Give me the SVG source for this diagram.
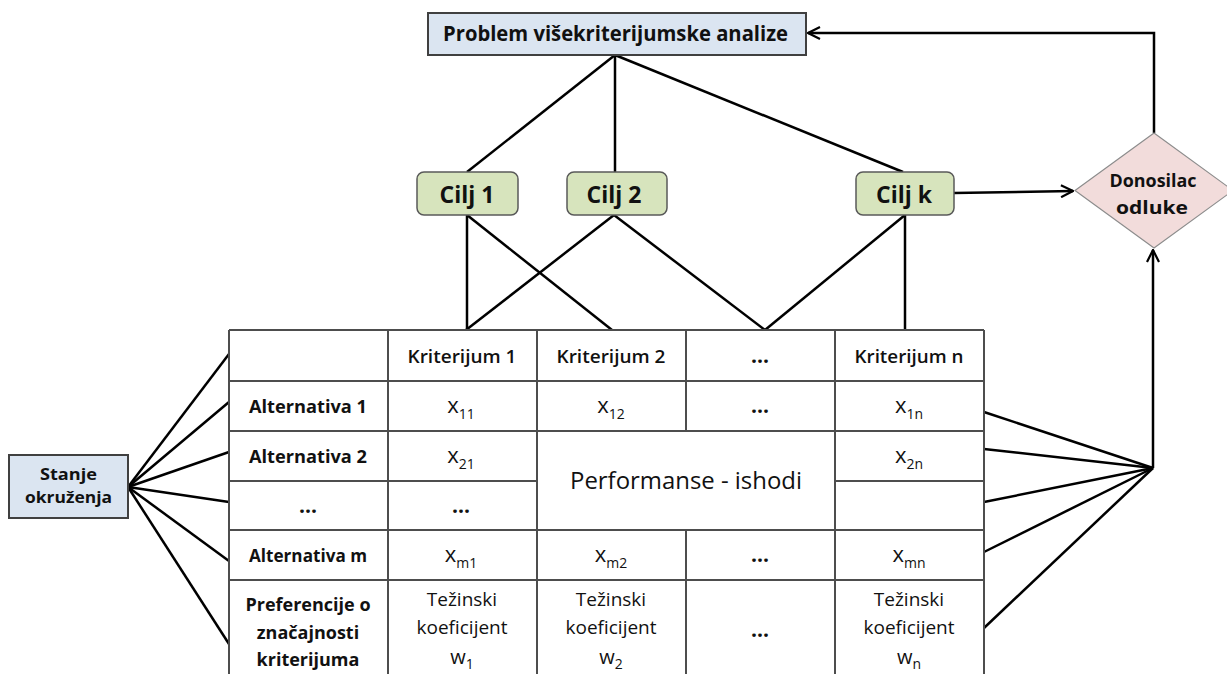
<svg xmlns="http://www.w3.org/2000/svg" width="1227" height="674" viewBox="0 0 1227 674">
  <style>
    .bg { fill: #ffffff; }
    .box { fill: #dbe5f1; stroke: #404040; stroke-width: 2; }
    .goal { fill: #d7e4bd; stroke: #595959; stroke-width: 1.5; }
    .dm { fill: #f2dcdb; stroke: #8c8c8c; stroke-width: 1.2; }
    .grid { stroke: #4d4d4d; stroke-width: 2; fill: none; }
    .conn { stroke: #000000; stroke-width: 2.5; fill: none; }
    text { font-family: "Open Sans", "Liberation Sans", sans-serif; fill: #111111; text-anchor: middle; }
    .b { font-weight: bold; }
    .lbl { font-size: 18px; font-weight: bold; }
    .hdr { font-size: 18px; font-weight: 600; }
    .val { font-size: 22px; }
    .sub { font-size: 14px; }
    .wv { font-size: 20px; }
    .dots { font-size: 21px; font-weight: bold; }
    .wt { font-size: 19px; }
  </style>
  <defs>
    <marker id="arrow" viewBox="0 0 14 14" refX="13" refY="7" markerWidth="14" markerHeight="14" markerUnits="userSpaceOnUse" orient="auto">
      <path d="M1,1 L13,7 L1,13" fill="none" stroke="#000000" stroke-width="2.2"/>
    </marker>
  </defs>

  <rect class="bg" x="0" y="0" width="1227" height="674"/>

  <!-- connectors -->
  <g id="connectors">
    <!-- problem to goals -->
    <path class="conn" d="M615,55 L467,172"/>
    <path class="conn" d="M615,55 L615,172"/>
    <path class="conn" d="M615,55 L903,172"/>
    <!-- goals to criteria -->
    <path class="conn" d="M467,215 L467,330"/>
    <path class="conn" d="M467,215 L612,330"/>
    <path class="conn" d="M614,215 L466,330"/>
    <path class="conn" d="M614,215 L765,330"/>
    <path class="conn" d="M905,215 L765,330"/>
    <path class="conn" d="M905,215 L905,330"/>
    <!-- goal k to decision maker -->
    <path class="conn" d="M954,193 L1073,191" marker-end="url(#arrow)"/>
    <!-- decision maker back to problem -->
    <path class="conn" d="M1154,133 L1154,33 L808,33" marker-end="url(#arrow)"/>
    <!-- table rows to decision maker -->
    <path class="conn" d="M984,412 L1153,468"/>
    <path class="conn" d="M984,449 L1153,468"/>
    <path class="conn" d="M984,502 L1153,468"/>
    <path class="conn" d="M984,552 L1153,468"/>
    <path class="conn" d="M984,628 L1153,468"/>
    <path class="conn" d="M1153,468 L1153,250" marker-end="url(#arrow)"/>
    <!-- environment state to table rows -->
    <path class="conn" d="M128,487 L229,354"/>
    <path class="conn" d="M128,487 L229,402"/>
    <path class="conn" d="M128,487 L229,452"/>
    <path class="conn" d="M128,487 L229,502"/>
    <path class="conn" d="M128,487 L229,561"/>
    <path class="conn" d="M128,487 L229,644"/>
  </g>

  <g id="problem">
    <rect class="box" x="428" y="13" width="378" height="42"/>
    <text class="b" x="615.5" y="41" font-size="21" textLength="345" lengthAdjust="spacingAndGlyphs">Problem višekriterijumske analize</text>
  </g>

  <g id="cilj1">
    <rect class="goal" x="417" y="172" width="101" height="43" rx="7"/>
    <text class="b" x="467" y="203" font-size="23">Cilj 1</text>
  </g>
  <g id="cilj2">
    <rect class="goal" x="567" y="172" width="100" height="43" rx="7"/>
    <text class="b" x="614" y="203" font-size="23">Cilj 2</text>
  </g>
  <g id="ciljk">
    <rect class="goal" x="856" y="172" width="98" height="43" rx="7"/>
    <text class="b" x="904" y="203" font-size="23">Cilj k</text>
  </g>

  <g id="donosilac">
    <polygon class="dm" points="1154,133 1233,190.5 1154,248 1075,190.5"/>
    <text class="b" x="1153" y="187" font-size="17" textLength="87" lengthAdjust="spacingAndGlyphs">Donosilac</text>
    <text class="b" x="1152" y="214" font-size="17" textLength="72" lengthAdjust="spacingAndGlyphs">odluke</text>
  </g>

  <g id="stanje">
    <rect class="box" x="9" y="455" width="119" height="63"/>
    <text class="b" x="68.5" y="480" font-size="16.5" textLength="57" lengthAdjust="spacingAndGlyphs">Stanje</text>
    <text class="b" x="68.5" y="503" font-size="16.5" textLength="87" lengthAdjust="spacingAndGlyphs">okruženja</text>
  </g>

  <g id="matrica">
    <!-- grid -->
    <path class="grid" d="M229,330 H984 M229,381 H984 M229,431 H984 M229,481 H537 M835,481 H984 M229,530 H984 M229,580 H984"/>
    <path class="grid" d="M229,330 V676 M388,330 V676 M537,330 V676 M686,330 V431 M686,530 V676 M835,330 V676 M984,330 V676"/>

    <!-- header row -->
    <text class="hdr" x="462" y="363" textLength="109" lengthAdjust="spacingAndGlyphs">Kriterijum 1</text>
    <text class="hdr" x="611" y="363" textLength="109" lengthAdjust="spacingAndGlyphs">Kriterijum 2</text>
    <text class="dots" x="760" y="363">...</text>
    <text class="hdr" x="909" y="363" textLength="109" lengthAdjust="spacingAndGlyphs">Kriterijum n</text>

    <!-- alternative 1 -->
    <text class="lbl" x="308" y="413" textLength="118" lengthAdjust="spacingAndGlyphs">Alternativa 1</text>
    <text class="val" x="461" y="413">x<tspan class="sub" dy="6">11</tspan></text>
    <text class="val" x="611" y="413">x<tspan class="sub" dy="6">12</tspan></text>
    <text class="dots" x="760" y="413">...</text>
    <text class="val" x="909" y="413">x<tspan class="sub" dy="6">1n</tspan></text>

    <!-- alternative 2 -->
    <text class="lbl" x="308" y="463" textLength="118" lengthAdjust="spacingAndGlyphs">Alternativa 2</text>
    <text class="val" x="461" y="463">x<tspan class="sub" dy="6">21</tspan></text>
    <text class="val" x="909" y="463">x<tspan class="sub" dy="6">2n</tspan></text>

    <!-- merged outcomes cell -->
    <text x="686" y="489" font-size="23" textLength="232" lengthAdjust="spacingAndGlyphs">Performanse - ishodi</text>

    <!-- ellipsis row -->
    <text class="dots" x="308" y="513">...</text>
    <text class="dots" x="461" y="513">...</text>

    <!-- alternative m -->
    <text class="lbl" x="308" y="562" textLength="118" lengthAdjust="spacingAndGlyphs">Alternativa m</text>
    <text class="val" x="461" y="562">x<tspan class="sub" dy="6">m1</tspan></text>
    <text class="val" x="611" y="562">x<tspan class="sub" dy="6">m2</tspan></text>
    <text class="dots" x="760" y="562">...</text>
    <text class="val" x="909" y="562">x<tspan class="sub" dy="6">mn</tspan></text>

    <!-- preference row -->
    <text class="lbl" x="308" y="611">Preferencije o</text>
    <text class="lbl" x="308" y="639">značajnosti</text>
    <text class="lbl" x="308" y="666">kriterijuma</text>

    <text class="wt" x="462" y="606">Težinski</text>
    <text class="wt" x="462" y="634">koeficijent</text>
    <text class="wv" x="462" y="664">w<tspan class="sub" dy="5">1</tspan></text>

    <text class="wt" x="611" y="606">Težinski</text>
    <text class="wt" x="611" y="634">koeficijent</text>
    <text class="wv" x="611" y="664">w<tspan class="sub" dy="5">2</tspan></text>

    <text class="dots" x="760" y="637">...</text>

    <text class="wt" x="909" y="606">Težinski</text>
    <text class="wt" x="909" y="634">koeficijent</text>
    <text class="wv" x="909" y="664">w<tspan class="sub" dy="5">n</tspan></text>
  </g>
</svg>
